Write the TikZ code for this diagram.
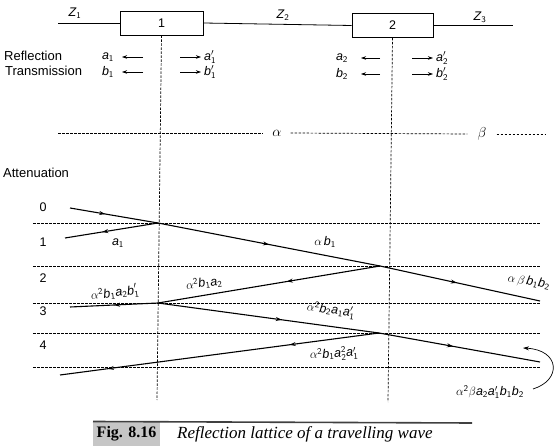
\documentclass[tikz,border=0pt]{standalone}
\usepackage{fontspec}
\setmainfont{Liberation Sans}
\newfontfamily\capfont{Liberation Serif}
\usetikzlibrary{arrows.meta,decorations.markings}
\newcommand\va[1]{\textit{a}_{\mathsf{#1}}}
\newcommand\vb[1]{\textit{b}_{\mathsf{#1}}}
\newcommand\vap[1]{\textit{a}'_{\mathsf{#1}}}
\newcommand\vbp[1]{\textit{b}'_{\mathsf{#1}}}
\newcommand\sq{^{\mathsf{2}}}
\begin{document}
\begin{tikzpicture}[x=1pt,y=-1pt,
  wire/.style={line width=0.8pt},
  box/.style={draw, line width=0.8pt, minimum width=83pt, minimum height=24pt, inner sep=0pt, font=\fontsize{12.5}{14}\selectfont},
  grid/.style={line width=0.7pt, dash pattern=on 2.5pt off 1.5pt},
  ray/.style={line width=1.1pt},
  arrowat/.style={postaction={decorate}, decoration={markings, mark=at position #1 with {\arrow{Stealth[length=6pt,width=4pt]}}}},
  lbl/.style={font=\fontsize{12.5}{14}\selectfont, inner sep=0pt},
  greek/.style={font=\fontsize{15}{17}\selectfont, inner sep=0pt},
  txt/.style={font=\fontsize{13}{15}\selectfont, inner sep=0pt, anchor=west},
  sm/.style={-{Stealth[length=5pt,width=3.5pt]}, line width=0.6pt}]

\useasboundingbox (0,0) rectangle (557,446);

% line and discontinuities
\node[box] (b1) at (161.5,23) {1};
\node[box, minimum width=81pt] (b2) at (392.5,25.5) {2};
\coordinate (z1s) at (58,23);
\coordinate (z3e) at (513,25.5);
\draw[wire] (z1s) -- (b1.west);
\draw[wire] (b1.east) -- (b2.west);
\draw[wire] (b2.east) -- (z3e);
\node[lbl] (Z1) at (75,13) {$\textit{Z}_{\mathsf{1}}$};
\node[lbl] (Z2) at (283,15) {$\textit{Z}_{\mathsf{2}}$};
\node[lbl] (Z3) at (480,17) {$\textit{Z}_{\mathsf{3}}$};

% vertical dashed lines
\coordinate (v1e) at (157,400);
\coordinate (v2e) at (388,402);
\draw[grid] (b1.south) -- (v1e);
\draw[grid] (b2.south) -- (v2e);

% reflection / transmission coefficients
\node[txt] (refl) at (4,56) {Reflection};
\node[txt] (trans) at (5,71) {Transmission};

\node[lbl] (a1) at (108,57) {$\va1$};
\node[lbl] (b1l) at (108,72) {$\vb1$};
\coordinate (a1s) at (143,57); \coordinate (a1e) at (122,57);
\coordinate (b1s) at (143,72); \coordinate (b1e) at (122,72);
\draw[sm] (a1s) -- (a1e);
\draw[sm] (b1s) -- (b1e);
\coordinate (a1ps) at (180,57); \coordinate (a1pe) at (201,57);
\coordinate (b1ps) at (180,72); \coordinate (b1pe) at (201,72);
\draw[sm] (a1ps) -- (a1pe);
\draw[sm] (b1ps) -- (b1pe);
\node[lbl, anchor=west] (a1p) at (204,57) {$\vap1$};
\node[lbl, anchor=west] (b1p) at (204,72) {$\vbp1$};

\node[lbl] (a2) at (342,58) {$\va2$};
\node[lbl] (b2l) at (342,74) {$\vb2$};
\coordinate (a2s) at (380,58); \coordinate (a2e) at (361,58);
\coordinate (b2s) at (380,74); \coordinate (b2e) at (361,74);
\draw[sm] (a2s) -- (a2e);
\draw[sm] (b2s) -- (b2e);
\coordinate (a2ps) at (412,58); \coordinate (a2pe) at (433,58);
\coordinate (b2ps) at (412,74); \coordinate (b2pe) at (433,74);
\draw[sm] (a2ps) -- (a2pe);
\draw[sm] (b2ps) -- (b2pe);
\node[lbl, anchor=west] (a2p) at (436,58) {$\vap2$};
\node[lbl, anchor=west] (b2p) at (436,74) {$\vbp2$};

% attenuation line
\node[greek, inner xsep=9pt] (al) at (277,133) {$\alpha$};
\node[greek, inner xsep=10pt] (be) at (482,134) {$\beta$};
\coordinate (als) at (58,133);
\coordinate (bee) at (545,134);
\draw[grid] (als) -- (al.west);
\draw[grid] (al.east) -- (be.west);
\draw[grid] (be.east) -- (bee);

\node[txt] (att) at (3,173) {Attenuation};

% level lines
\foreach \y/\n in {223/0,266/1,303/2,333/3,367/4}{
  \coordinate (L\n s) at (33,\y);
  \coordinate (L\n e) at (540,\y);
  \draw[grid] (L\n s) -- (L\n e);
}
\node[lbl] (n0) at (43,207) {0};
\node[lbl] (n1) at (43,242) {1};
\node[lbl] (n2) at (43,278) {2};
\node[lbl] (n3) at (43,311) {3};
\node[lbl] (n4) at (43,345) {4};

% lattice rays
\coordinate (S) at (70,208);
\coordinate (B1) at (158,223);
\coordinate (B2) at (380,266);
\coordinate (B3) at (158,303);
\coordinate (B4) at (379,333);
\coordinate (E1) at (65,238);
\coordinate (E2) at (540,301);
\coordinate (E3) at (70,307);
\coordinate (E4) at (60,375);
\coordinate (E5) at (540,362);

\draw[ray, arrowat=0.4] (S) -- (B1);
\draw[ray, arrowat=0.6] (B1) -- (E1);
\draw[ray, arrowat=0.5] (B1) -- (B2);
\draw[ray, arrowat=0.48] (B2) -- (E2);
\draw[ray, arrowat=0.42] (B2) -- (B3);
\draw[ray, arrowat=0.5] (B3) -- (E3);
\draw[ray, arrowat=0.56] (B3) -- (B4);
\draw[ray, postaction={decorate}, decoration={markings,
   mark=at position 0.28 with {\arrow{Stealth[length=6pt,width=4pt]}},
   mark=at position 0.85 with {\arrow{Stealth[length=6pt,width=4pt]}}}] (B4) -- (E4);
\draw[ray, arrowat=0.46] (B4) -- (E5);

% ray labels
\node[lbl] (t1) at (118,243) {$\va1$};
\node[lbl] (t2) at (325,242) {$\alpha\,\vb1$};
\node[lbl, rotate=8] (t3) at (204,283) {$\alpha\sq\vb1\va2$};
\node[lbl, rotate=7] (t4) at (115,293) {$\alpha\sq\vb1\va2\vbp1$};
\node[lbl, rotate=-7] (t5) at (331,310) {$\alpha\sq\vb2\va1\vap1$};
\node[lbl, rotate=3] (t6) at (334,354) {$\alpha\sq\vb1\textit{a}\sq_{\mathsf{2}}\vap1$};
\node[lbl, rotate=-10] (t7) at (529,282) {$\alpha\,\beta\,\vb1\vb2$};
\node[lbl] (t8) at (490,392) {$\alpha\sq\beta\va2\vap1\vb1\vb2$};
\coordinate (cs) at (533,389);
\coordinate (ce) at (523,348);
\draw[line width=0.7pt, -{Stealth[length=6pt,width=4pt]}] (cs) .. controls (562,380) and (560,350) .. (ce);

% caption
\node[fill=gray!45, minimum width=67pt, minimum height=25pt, inner sep=0pt] (fig) at (126.5,433.5) {\capfont\bfseries\fontsize{16}{18}\selectfont Fig. 8.16};
\coordinate (rs) at (93,421.5);
\coordinate (re) at (472,423);
\draw[line width=1.6pt, gray!50!black] (rs) -- (re);
\node[anchor=west, inner sep=0pt] (cap) at (177,434) {\capfont\itshape\fontsize{17}{19}\selectfont Reflection lattice of a travelling wave};
\end{tikzpicture}
\end{document}
